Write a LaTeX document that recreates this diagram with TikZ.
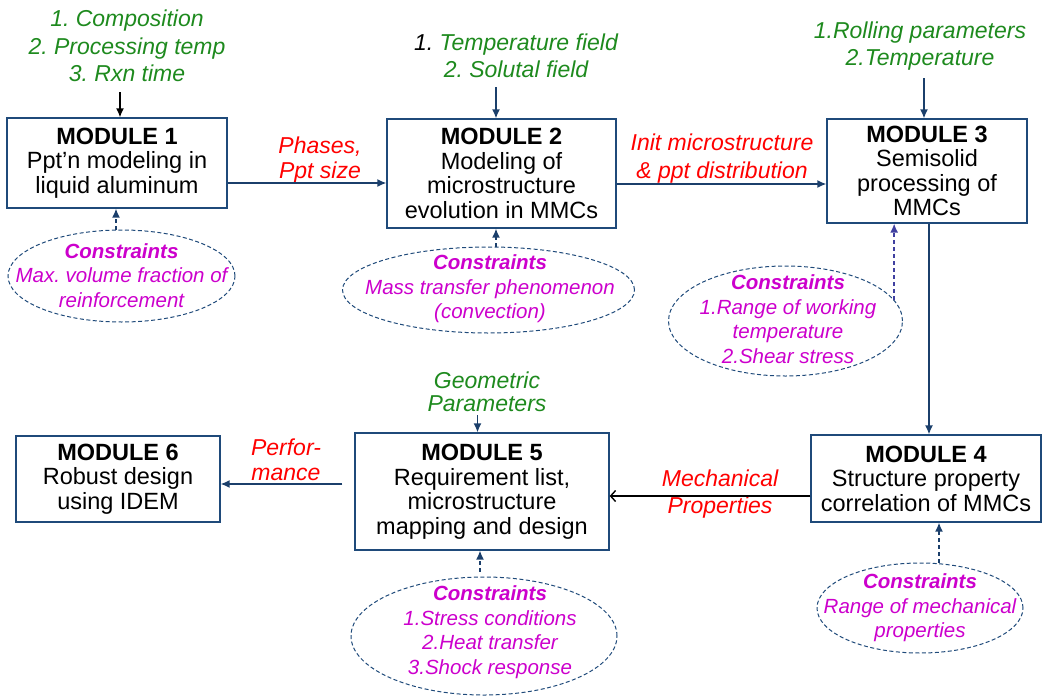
\documentclass[tikz,border=0pt]{standalone}
\usepackage{fontspec}
\setmainfont{Liberation Sans}
\usetikzlibrary{shapes.geometric,arrows.meta}
\frenchspacing

\definecolor{boxblue}{HTML}{1F4A7A}
\definecolor{arrblue}{HTML}{1B3F6B}
\definecolor{violetarr}{HTML}{4040A0}
\definecolor{inputgreen}{HTML}{1E8A1E}
\definecolor{flowred}{HTML}{FF0000}
\definecolor{consmag}{HTML}{CC00CC}

\tikzset{
  module/.style={draw=boxblue, line width=1.3pt, fill=white, align=center,
    inner sep=0pt, font=\fontsize{23.5}{24.5}\selectfont},
  inputlbl/.style={text=inputgreen, align=center, inner sep=0pt,
    font=\itshape\fontsize{23}{27.5}\selectfont},
  flowlbl/.style={text=flowred, align=center, inner sep=0pt,
    font=\itshape\fontsize{23}{26}\selectfont},
  consoval/.style={draw=boxblue, ellipse, inner sep=0pt, line width=1pt,
    dash pattern=on 4pt off 2.5pt},
  constext/.style={text=consmag, align=center, inner sep=0pt,
    font=\itshape\fontsize{20.5}{24.5}\selectfont},
  arr/.style={draw=arrblue, line width=1.4pt, -{Latex[length=9pt,width=8pt]}},
  darr/.style={arr, dash pattern=on 4pt off 3pt},
}

\begin{document}
\begin{tikzpicture}[x=1pt,y=-1pt]
\useasboundingbox (0,0) rectangle (1046,696);

% ---- modules ----
\node[module, minimum width=220pt, minimum height=90pt] (m1) at (117,163)
  {\textbf{MODULE 1}\\Ppt’n modeling in\\liquid aluminum};
\node[module, minimum width=229pt, minimum height=109pt] (m2) at (501.5,173.5)
  {\textbf{MODULE 2}\\Modeling of\\microstructure\\evolution in MMCs};
\node[module, minimum width=200pt, minimum height=104pt] (m3) at (927,171)
  {\textbf{MODULE 3}\\Semisolid\\processing of\\MMCs};
\node[module, minimum width=230pt, minimum height=87pt] (m4) at (926,478.5)
  {\textbf{MODULE 4}\\Structure property\\correlation of MMCs};
\node[module, minimum width=254pt, minimum height=117pt] (m5) at (482,491.5)
  {\textbf{MODULE 5}\\Requirement list,\\microstructure\\mapping and design};
\node[module, minimum width=204pt, minimum height=86pt] (m6) at (118,479)
  {\textbf{MODULE 6}\\Robust design\\using IDEM};

% ---- inputs ----
\node[inputlbl] (in1) at (127,46) {1. Composition\\2. Processing temp\\3. Rxn time};
\node[inputlbl] (in2) at (516,56) {{\color{black}1.} Temperature field\\2. Solutal field};
\node[inputlbl] (in3) at (920,46) {1.Rolling parameters\\2.Temperature};
\node[inputlbl, font=\itshape\fontsize{23}{23.5}\selectfont] (in5) at (487,392)
  {Geometric\\Parameters};

\coordinate (t1) at (120,92);
\coordinate (t2) at (496,87);
\coordinate (t3) at (924,78);
\coordinate (t5) at (477.5,415);
\draw[arr, draw=black] (t1) -- (t1 |- m1.north);
\draw[arr] (t2) -- (t2 |- m2.north);
\draw[arr] (t3) -- (t3 |- m3.north);
\draw[arr] (t5) -- (t5 |- m5.north);

% ---- flows between modules ----
\node[flowlbl, font=\itshape\fontsize{23}{25}\selectfont] (f12) at (320,160) {Phases,\\Ppt size};
\node[flowlbl, font=\itshape\fontsize{23}{28}\selectfont] (f23) at (722,159)
  {Init microstructure\\\& ppt distribution};
\node[flowlbl, font=\itshape\fontsize{23}{27}\selectfont] (f45) at (720,494.5)
  {Mechanical\\Properties};
\node[flowlbl, font=\itshape\fontsize{23}{25}\selectfont] (f56) at (286,459.5)
  {Perfor-\\mance};

\coordinate (a12) at ([yshift=-20pt]m1.east);
\draw[arr] (a12) -- (a12 -| m2.west);
\coordinate (a23) at ([yshift=-10.5pt]m2.east);
\draw[arr] (a23) -- (a23 -| m3.west);
\coordinate (a34) at ([xshift=2pt]m3.south);
\draw[arr] (a34) -- (a34 |- m4.north);
\coordinate (a45) at ([yshift=-17.5pt]m4.west);
\draw[line width=1.4pt, -{Straight Barb[length=5pt,width=11pt]}] (a45) -- (a45 -| m5.east);
\coordinate (a56) at ([xshift=-12pt,yshift=7.5pt]m5.west);
\draw[arr] (a56) -- (a56 -| m6.east);

% ---- constraints ----
\node[consoval, minimum width=227pt, minimum height=92pt] (c1) at (121.5,276) {};
\node[constext] (k1) at (121.5,275.5)
  {\textbf{Constraints}\\Max. volume fraction of\\reinforcement};
\node[consoval, minimum width=292pt, minimum height=86pt] (c2) at (488.5,290) {};
\node[constext] (k2) at (490,289)
  {\textbf{Constraints}\\Mass transfer phenomenon\\(convection)};
\node[consoval, minimum width=234pt, minimum height=110pt] (c3) at (785.5,321) {};
\node[constext] (k3) at (788,319)
  {\textbf{Constraints}\\1.Range of working\\temperature\\2.Shear stress};
\node[consoval, minimum width=206pt, minimum height=90pt] (c4) at (920,608) {};
\node[constext] (k4) at (920,608)
  {\textbf{Constraints}\\Range of mechanical\\properties};
\node[consoval, minimum width=266pt, minimum height=118pt] (c5) at (484,636) {};
\node[constext] (k5) at (490,632)
  {\textbf{Constraints}\\1.Stress conditions\\2.Heat transfer\\3.Shock response};

\coordinate (d1) at ([xshift=-5.5pt]c1.north);
\draw[darr] (d1) -- (d1 |- m1.south);
\coordinate (d2) at ([xshift=7.5pt]c2.north);
\draw[darr] (d2) -- (d2 |- m2.south);
\coordinate (d3) at (c3.11);
\draw[darr, draw=violetarr] (d3) -- (d3 |- m3.south);
\coordinate (d4) at ([xshift=19pt]c4.north);
\draw[darr] (d4) -- (d4 |- m4.south);
\coordinate (d5) at ([xshift=-4pt,yshift=5pt]c5.north);
\draw[darr] (d5) -- (d5 |- m5.south);
\end{tikzpicture}
\end{document}
